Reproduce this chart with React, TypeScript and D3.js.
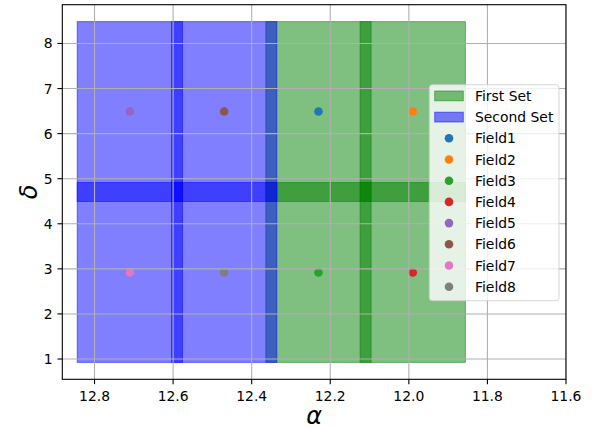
import React from "react";
import * as d3 from "d3";

const fieldNames = ["Field1", "Field2", "Field3", "Field4", "Field5", "Field6", "Field7", "Field8"];
const fieldAlpha = [12.23, 11.99, 12.23, 11.99, 12.71, 12.47, 12.71, 12.47];
const fieldDelta = [6.49, 6.49, 2.92, 2.92, 6.49, 6.49, 2.92, 2.92];
const fieldColors = ["#1f77b4", "#ff7f0e", "#2ca02c", "#d62728", "#9467bd", "#8c564b", "#e377c2", "#7f7f7f"];
const firstSet = [0, 1, 2, 3];
const secondSet = [4, 5, 6, 7];
const fieldWidth = 0.268;
const fieldHeight = 3.99;
const xTicks = [12.8, 12.6, 12.4, 12.2, 12.0, 11.8, 11.6];
const yTicks = [1, 2, 3, 4, 5, 6, 7, 8];
const xDomain = [12.882, 11.6];
const yDomain = [0.55, 8.86];
const setNames = ["First Set", "Second Set"];
const setColors = ["#008000", "#0000ff"];

export default function App() {
  const W = 594, H = 430;
  const L = 62.3, R = 566, T = 4.7, B = 379.3;
  const x = d3.scaleLinear().domain(xDomain).range([L, R]);
  const y = d3.scaleLinear().domain(yDomain).range([B, T]);
  const font = "DejaVu Sans, sans-serif";
  const fs = 13.9;
  const tickLen = 4.86;

  const rectFor = (i: number) => {
    const x0 = x(fieldAlpha[i] + fieldWidth / 2);
    const x1 = x(fieldAlpha[i] - fieldWidth / 2);
    const y0 = y(fieldDelta[i] + fieldHeight / 2);
    const y1 = y(fieldDelta[i] - fieldHeight / 2);
    return { x: x0, y: y0, w: x1 - x0, h: y1 - y0 };
  };

  const legendX = 429.3, legendY = 84.7, legendW = 129.7, legendH = 216;
  const rowY0 = 95.9, rowStep = 21.2;

  return (
    <svg width={W} height={H} style={{ position: "absolute", left: 0, top: 0, background: "#fff" }} fontFamily={font}>
      <rect x={0} y={0} width={W} height={H} fill="#fff" />
      <defs>
        <clipPath id="plotclip">
          <rect x={L} y={T} width={R - L} height={B - T} />
        </clipPath>
      </defs>
      <g clipPath="url(#plotclip)">
        {[firstSet, secondSet].map((set, si) =>
          set.map((i) => {
            const r = rectFor(i);
            return (
              <rect key={`r${si}-${i}`} x={r.x} y={r.y} width={r.w} height={r.h}
                fill={setColors[si]} fillOpacity={0.5} stroke={setColors[si]} strokeOpacity={0.5} strokeWidth={1} />
            );
          })
        )}
        {fieldNames.map((n, i) => (
          <circle key={n} cx={x(fieldAlpha[i])} cy={y(fieldDelta[i])} r={4.3} fill={fieldColors[i]} />
        ))}
        {xTicks.map((t) => (
          <line key={`gx${t}`} x1={x(t)} x2={x(t)} y1={T} y2={B} stroke="#b0b0b0" strokeWidth={1.1} />
        ))}
        {yTicks.map((t) => (
          <line key={`gy${t}`} x1={L} x2={R} y1={y(t)} y2={y(t)} stroke="#b0b0b0" strokeWidth={1.1} />
        ))}
      </g>
      <rect x={L} y={T} width={R - L} height={B - T} fill="none" stroke="#000" strokeWidth={1.1} />
      {xTicks.map((t) => (
        <g key={`xt${t}`}>
          <line x1={x(t)} x2={x(t)} y1={B} y2={B + tickLen} stroke="#000" strokeWidth={1.1} />
          <text x={x(t)} y={401} textAnchor="middle" fontSize={fs} fill="#000">{d3.format(".1f")(t)}</text>
        </g>
      ))}
      {yTicks.map((t) => (
        <g key={`yt${t}`}>
          <line x1={L - tickLen} x2={L} y1={y(t)} y2={y(t)} stroke="#000" strokeWidth={1.1} />
          <text x={L - tickLen - 4.9} y={y(t)} dy="0.36em" textAnchor="end" fontSize={fs} fill="#000">{t}</text>
        </g>
      ))}
      <text x={(L + R) / 2} y={424} textAnchor="middle" fontSize={24} fontStyle="italic" fill="#000">α</text>
      <text transform={`translate(37,${(T + B) / 2}) rotate(-90)`} textAnchor="middle" fontSize={24} fontStyle="italic" fill="#000">δ</text>

      <rect x={legendX} y={legendY} width={legendW} height={legendH} rx={3} fill="#fff" fillOpacity={0.8} stroke="#cccccc" strokeOpacity={0.8} strokeWidth={1} />
      {setNames.map((s, k) => (
        <g key={s}>
          <rect x={434.7} y={rowY0 + k * rowStep - 4.9} width={28.6} height={9.8}
            fill={setColors[k]} fillOpacity={0.5} stroke={setColors[k]} strokeOpacity={0.5} strokeWidth={1} />
          <text x={475} y={rowY0 + k * rowStep} dy="0.36em" fontSize={fs} fill="#000">{s}</text>
        </g>
      ))}
      {fieldNames.map((n, i) => (
        <g key={`lg${n}`}>
          <circle cx={449} cy={rowY0 + (i + 2) * rowStep} r={4.3} fill={fieldColors[i]} />
          <text x={475} y={rowY0 + (i + 2) * rowStep} dy="0.36em" fontSize={fs} fill="#000">{n}</text>
        </g>
      ))}
    </svg>
  );
}
